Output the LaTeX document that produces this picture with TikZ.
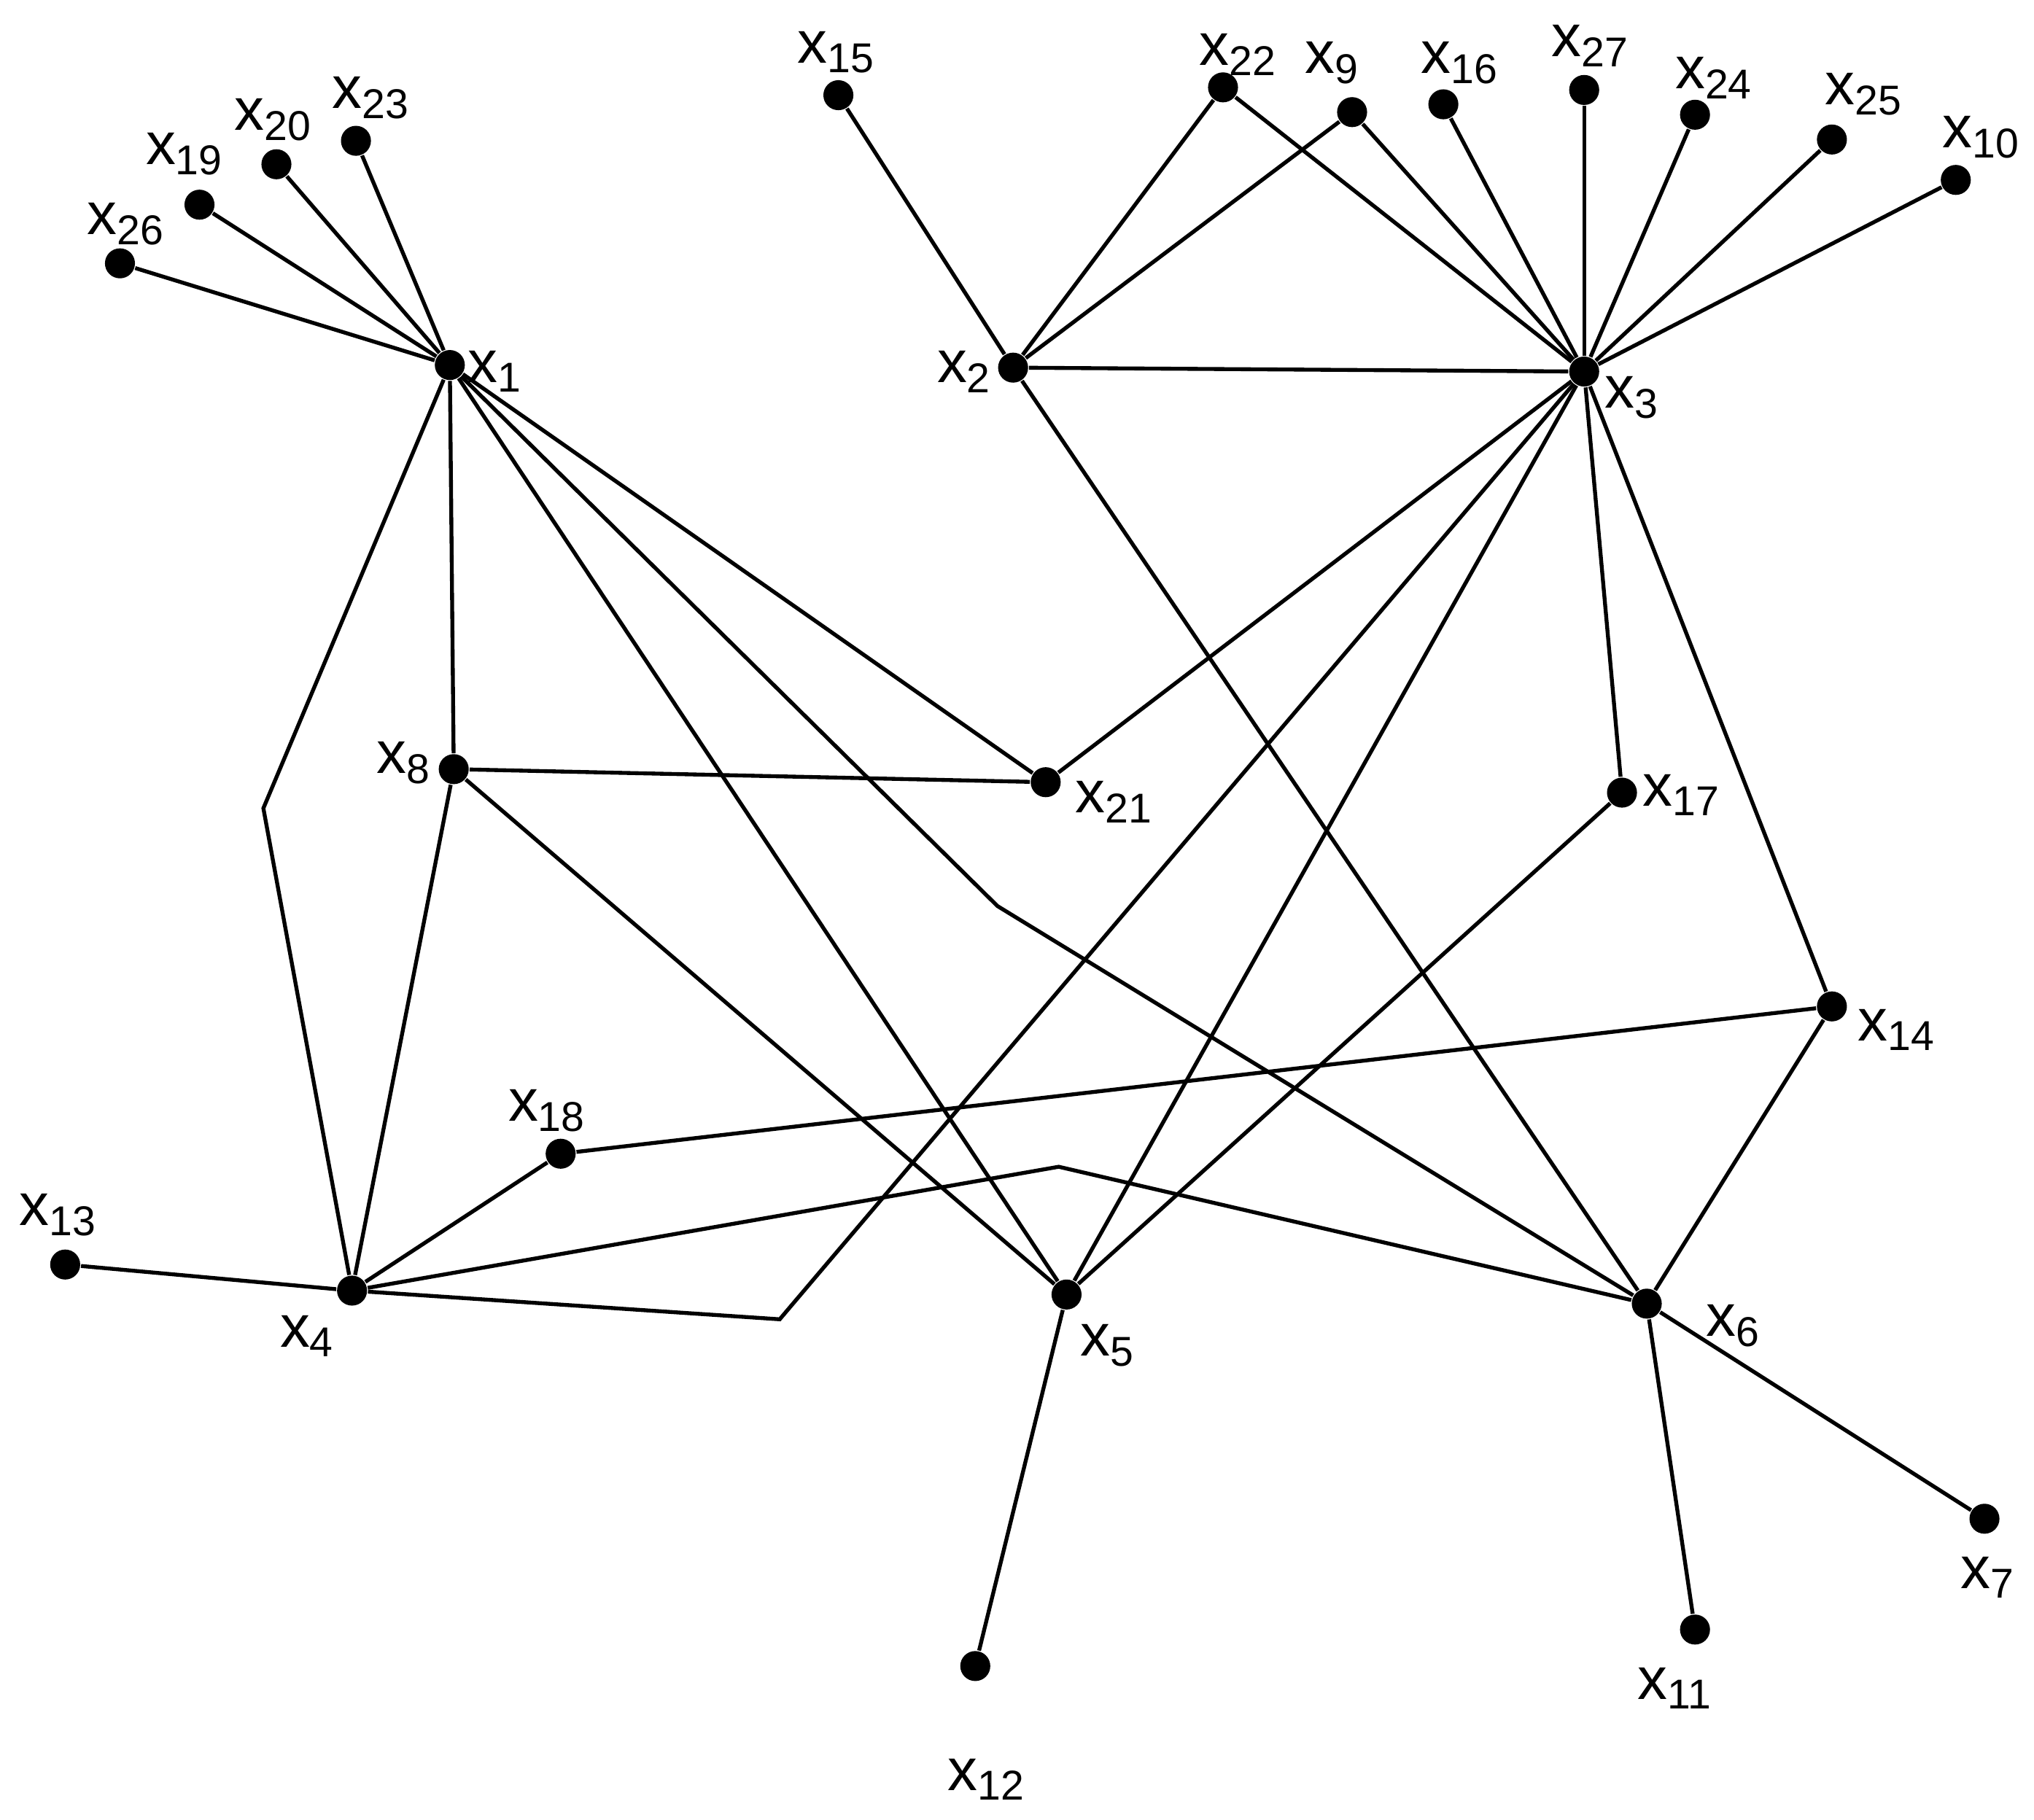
\documentclass[tikz,border=0pt]{standalone}
\usepackage{fontspec}
\setmainfont{Liberation Sans}
\begin{document}
\begin{tikzpicture}[x=0.01cm,y=-0.01cm,
  dot/.style={circle,fill=black,inner sep=0pt,minimum width=0.23cm,minimum height=0.21cm},
  lab/.style={font=\fontsize{13}{15}\selectfont,inner sep=0pt},
  edge/.style={line width=0.85pt}]
\useasboundingbox (0,0) rectangle (1560,1396);
\foreach \n/\x/\y/\lx/\ly in {
1/345/280/380/285, 2/777/282/740/285, 3/1215/285/1252/305, 4/270/990/236/1025,
5/818/993/850/1032, 6/1263/1000/1330/1017, 7/1522/1165/1525/1210, 8/348/590/310/585,
9/1037/86/1022/48, 10/1500/138/1520/105, 11/1300/1250/1285/1295, 12/748/1278/757/1365,
13/50/970/45/932, 14/1405/772/1455/790, 15/643/73/642/40, 16/1107/80/1120/48,
17/1244/608/1290/610, 18/430/885/420/852, 19/153/157/142/118, 20/212/126/210/92,
21/802/600/855/615, 22/938/67/950/42, 23/273/108/285/75, 24/1300/88/1315/60,
25/1405/107/1430/72, 26/92/202/97/172, 27/1215/69/1220/35}
{ \node[dot] (x\n) at (\x,\y) {};
  \node[lab] (l\n) at (\lx,\ly) {x\textsubscript{\n}}; }
\coordinate (b1) at (765,695);
\coordinate (b2) at (202,620);
\coordinate (b3) at (598,1012);
\coordinate (b4) at (812,895);
\begin{scope}[edge]
\foreach \t in {26,19,20,23,8,21,5} \draw (x1) -- (x\t);
\draw (x1) -- (b1) -- (x6);
\draw (x1) -- (b2) -- (x4);
\foreach \t in {15,22,9,3,6} \draw (x2) -- (x\t);
\foreach \t in {22,9,16,27,24,25,10,21,5,17,14} \draw (x3) -- (x\t);
\draw (x3) -- (b3) -- (x4);
\foreach \t in {21,4,5} \draw (x8) -- (x\t);
\draw (x4) -- (x13); \draw (x4) -- (x18);
\draw (x4) -- (b4) -- (x6);
\draw (x14) -- (x18); \draw (x14) -- (x6);
\draw (x17) -- (x5); \draw (x5) -- (x12);
\draw (x6) -- (x7); \draw (x6) -- (x11);
\end{scope}
\end{tikzpicture}
\end{document}
